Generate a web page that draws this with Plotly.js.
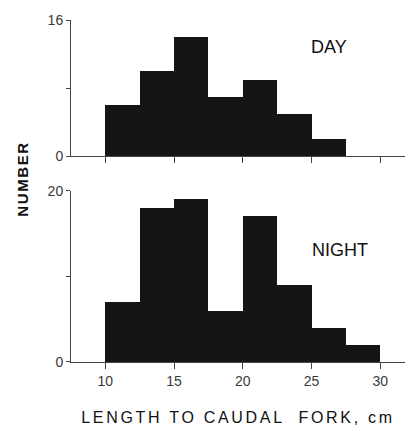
<!DOCTYPE html>
<html>
<head>
<meta charset="utf-8">
<script src="https://cdn.plot.ly/plotly-3.0.1.min.js"></script>
<style>
html,body{margin:0;padding:0;background:#fff;}
#chart{width:405px;height:432px;}
.xtitle{letter-spacing:2.7px;}
g.annotation[data-index="2"] text{letter-spacing:1.6px;}
</style>
</head>
<body>
<div id="chart"></div>
<script>
// bin starts (cm) and counts
var dayBinStarts = [10, 12.5, 15, 17.5, 20, 22.5, 25];
var dayCounts = [6, 10, 14, 7, 9, 5, 2];
var nightBinStarts = [10, 12.5, 15, 17.5, 20, 22.5, 25, 27.5];
var nightCounts = [7, 18, 19, 6, 17, 9, 4, 2];
var binWidth = 2.5;
var xTicks = [10, 15, 20, 25, 30];
var dayYTicks = [0, 8, 16];
var dayYLabels = ['0', '', '16'];
var nightYTicks = [0, 10, 20];
var nightYLabels = ['0', '', '20'];

var fnt = 'Liberation Sans, Arial, Helvetica, sans-serif';
var barColor = '#151515';

var traces = [
  {type:'bar', x: dayBinStarts, y: dayCounts, width: dayBinStarts.map(function(){return binWidth;}),
   offset: 0, xaxis:'x2', yaxis:'y2', marker:{color:barColor, line:{width:0}}, hoverinfo:'skip'},
  {type:'bar', x: nightBinStarts, y: nightCounts, width: nightBinStarts.map(function(){return binWidth;}),
   offset: 0, xaxis:'x', yaxis:'y', marker:{color:barColor, line:{width:0}}, hoverinfo:'skip'}
];

var axisCommon = {
  showgrid:false, zeroline:false, showline:true, linecolor:'#444', linewidth:1,
  ticks:'outside', tickcolor:'#444', tickwidth:1,
  tickfont:{family:fnt, size:14, color:'#3a3a3a'}, fixedrange:true
};

var layout = {
  width:405, height:432,
  margin:{l:71, r:0, t:20, b:70},
  paper_bgcolor:'#fff', plot_bgcolor:'#fff',
  showlegend:false, bargap:0,
  font:{family:fnt},
  xaxis: Object.assign({}, axisCommon, {
    range:[7.5, 31.8], tickmode:'array', tickvals:xTicks, ticktext:xTicks.map(String),
    ticklen:6, anchor:'y',
    title:{text:'LENGTH TO CAUDAL  FORK, cm', font:{family:fnt, size:16, color:'#111'}, standoff:24}
  }),
  yaxis: Object.assign({}, axisCommon, {
    domain:[0, 0.501], range:[0, 20], tickmode:'array', tickvals:nightYTicks, ticktext:nightYLabels,
    ticklen:4, anchor:'x'
  }),
  xaxis2: Object.assign({}, axisCommon, {
    range:[7.5, 31.8], tickmode:'array', tickvals:xTicks, showticklabels:false,
    ticklen:6, anchor:'y2'
  }),
  yaxis2: Object.assign({}, axisCommon, {
    domain:[0.602, 1], range:[0, 16], tickmode:'array', tickvals:dayYTicks, ticktext:dayYLabels,
    ticklen:4, anchor:'x2'
  }),
  annotations:[
    {text:'DAY', xref:'x2', yref:'y2', x:26.3, y:12.8, showarrow:false,
     font:{family:fnt, size:18, color:'#111'}},
    {text:'NIGHT', xref:'x', yref:'y', x:27.05, y:13.1, showarrow:false,
     font:{family:fnt, size:18, color:'#111'}},
    {text:'<b>NUMBER</b>', xref:'paper', yref:'paper', x:-0.147, y:0.535, xanchor:'center', yanchor:'middle',
     textangle:-90, showarrow:false, font:{family:fnt, size:15, color:'#111'}}
  ]
};

Plotly.newPlot('chart', traces, layout, {displayModeBar:false, staticPlot:true});
</script>
</body>
</html>
